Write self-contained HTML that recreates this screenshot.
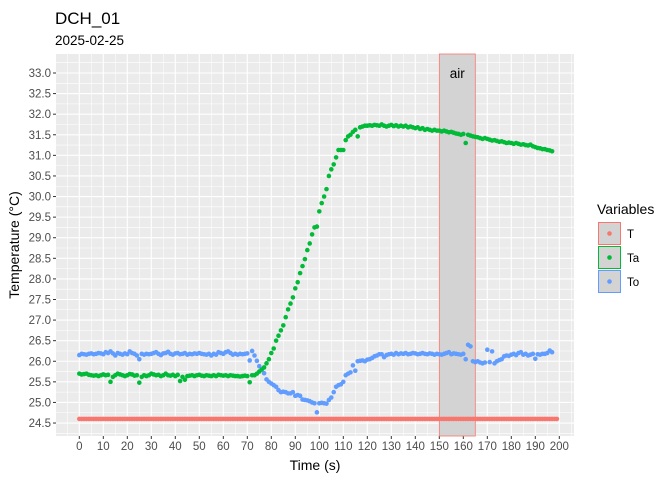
<!DOCTYPE html>
<html><head><meta charset="utf-8"><style>
body{margin:0;background:#fff;font-family:"Liberation Sans",Arial,sans-serif}
svg text{font-family:"Liberation Sans",Arial,sans-serif}
</style></head><body>
<svg id="c" width="672" height="480"></svg>
<script>
const seriesT = [24.6,24.6,24.6,24.6,24.6,24.6,24.6,24.6,24.6,24.6,24.6,24.6,24.6,24.6,24.6,24.6,24.6,24.6,24.6,24.6,24.6,24.6,24.6,24.6,24.6,24.6,24.6,24.6,24.6,24.6,24.6,24.6,24.6,24.6,24.6,24.6,24.6,24.6,24.6,24.6,24.6,24.6,24.6,24.6,24.6,24.6,24.6,24.6,24.6,24.6,24.6,24.6,24.6,24.6,24.6,24.6,24.6,24.6,24.6,24.6,24.6,24.6,24.6,24.6,24.6,24.6,24.6,24.6,24.6,24.6,24.6,24.6,24.6,24.6,24.6,24.6,24.6,24.6,24.6,24.6,24.6,24.6,24.6,24.6,24.6,24.6,24.6,24.6,24.6,24.6,24.6,24.6,24.6,24.6,24.6,24.6,24.6,24.6,24.6,24.6,24.6,24.6,24.6,24.6,24.6,24.6,24.6,24.6,24.6,24.6,24.6,24.6,24.6,24.6,24.6,24.6,24.6,24.6,24.6,24.6,24.6,24.6,24.6,24.6,24.6,24.6,24.6,24.6,24.6,24.6,24.6,24.6,24.6,24.6,24.6,24.6,24.6,24.6,24.6,24.6,24.6,24.6,24.6,24.6,24.6,24.6,24.6,24.6,24.6,24.6,24.6,24.6,24.6,24.6,24.6,24.6,24.6,24.6,24.6,24.6,24.6,24.6,24.6,24.6,24.6,24.6,24.6,24.6,24.6,24.6,24.6,24.6,24.6,24.6,24.6,24.6,24.6,24.6,24.6,24.6,24.6,24.6,24.6,24.6,24.6,24.6,24.6,24.6,24.6,24.6,24.6,24.6,24.6,24.6,24.6,24.6,24.6,24.6,24.6,24.6];
const seriesTa = [25.70,25.68,25.69,25.70,25.67,25.66,25.65,25.66,25.64,25.66,
25.68,25.66,25.67,25.50,25.62,25.66,25.70,25.68,25.66,25.64,
25.66,25.69,25.68,25.65,25.66,25.48,25.62,25.66,25.64,25.66,
25.70,25.68,25.66,25.67,25.64,25.66,25.70,25.66,25.65,25.67,
25.64,25.67,25.52,25.62,25.55,25.64,25.65,25.66,25.64,25.66,
25.67,25.65,25.64,25.66,25.65,25.64,25.66,25.64,25.67,25.66,
25.65,25.66,25.64,25.66,25.65,25.64,25.64,25.63,25.64,25.65,
25.64,25.49,25.66,25.66,25.70,25.75,25.80,25.85,25.95,26.05,
26.20,26.31,26.50,26.62,26.75,26.87,27.07,27.26,27.40,27.55,
27.77,27.92,28.14,28.31,28.48,28.70,28.86,29.08,29.25,29.27,
29.64,29.84,30.00,30.18,30.50,30.66,30.78,30.95,31.13,31.13,
31.13,31.37,31.46,31.50,31.57,31.62,31.46,31.68,31.70,31.72,
31.72,31.73,31.72,31.74,31.73,31.72,31.75,31.72,31.70,31.72,
31.74,31.71,31.73,31.70,31.72,31.70,31.72,31.68,31.70,31.68,
31.66,31.68,31.64,31.66,31.62,31.64,31.62,31.60,31.62,31.60,
31.60,31.58,31.60,31.58,31.56,31.57,31.55,31.53,31.52,31.50,
31.52,31.30,31.50,31.48,31.46,31.45,31.44,31.42,31.40,31.42,
31.40,31.38,31.36,31.37,31.35,31.33,31.34,31.32,31.30,31.31,
31.30,31.28,31.30,31.28,31.26,31.27,31.25,31.24,31.26,31.22,
31.20,31.18,31.17,31.15,31.15,31.13,31.12,31.10];
const seriesTo = [26.15,26.18,26.17,26.16,26.18,26.19,26.17,26.18,26.20,26.19,
26.17,26.22,26.20,26.24,26.19,26.14,26.20,26.18,26.16,26.19,
26.17,26.24,26.20,26.18,26.14,26.05,26.18,26.16,26.18,26.17,
26.18,26.20,26.22,26.18,26.15,26.19,26.20,26.23,26.18,26.16,
26.19,26.20,26.17,26.18,26.20,26.16,26.18,26.17,26.19,26.18,
26.20,26.18,26.17,26.16,26.18,26.14,26.18,26.16,26.22,26.20,
26.18,26.22,26.24,26.20,26.16,26.18,26.16,26.18,26.17,26.18,
26.19,26.02,26.25,26.14,26.01,25.88,25.80,25.71,25.56,25.50,
25.46,25.42,25.38,25.30,25.25,25.26,25.25,25.22,25.22,25.25,
25.16,25.18,25.16,25.07,25.06,25.05,25.03,25.00,24.98,24.76,
24.98,24.99,24.98,24.97,25.06,25.12,25.25,25.38,25.42,25.44,
25.50,25.66,25.70,25.73,25.90,25.77,26.00,26.01,26.02,26.00,
26.04,26.05,26.08,26.12,26.14,26.17,26.17,26.10,26.15,26.17,
26.18,26.16,26.20,26.17,26.19,26.18,26.20,26.17,26.18,26.20,
26.19,26.17,26.18,26.20,26.18,26.17,26.19,26.18,26.16,26.18,
26.17,26.16,26.18,26.20,26.22,26.17,26.19,26.18,26.17,26.16,
26.18,26.05,26.40,26.36,26.00,25.98,26.00,25.97,25.95,25.97,
26.28,25.98,26.24,25.95,26.00,26.03,26.05,26.12,26.14,26.13,
26.16,26.18,26.15,26.20,26.22,26.16,26.18,26.14,26.16,26.18,
26.06,26.17,26.16,26.18,26.18,26.20,26.26,26.22];
const xTicks = [0,10,20,30,40,50,60,70,80,90,100,110,120,130,140,150,160,170,180,190,200];
const yTicks = [24.5,25.0,25.5,26.0,26.5,27.0,27.5,28.0,28.5,29.0,29.5,30.0,30.5,31.0,31.5,32.0,32.5,33.0];
const airStart = 150, airEnd = 165;

const NS='http://www.w3.org/2000/svg', svg=document.getElementById('c');
const PL=56,PR=574,PT=54,PB=436;
const sx=t=>79.3+t*2.4;
const sy=v=>73+(33-v)*41.18;
function el(tag,attrs,parent){const e=document.createElementNS(NS,tag);for(const k in attrs)e.setAttribute(k,attrs[k]);(parent||svg).appendChild(e);return e;}
function txt(s,attrs,parent){const e=el('text',attrs,parent);e.textContent=s;return e;}

const panel=el('rect',{x:PL,y:PT,width:PR-PL,height:PB-PT,fill:'#EBEBEB'});


// minor grid
for(let i=0;i<xTicks.length;i++){const x=sx(xTicks[i]-5);if(x>PL)el('line',{x1:x,x2:x,y1:PT,y2:PB,stroke:'#fff','stroke-width':0.55});}
el('line',{x1:sx(205),x2:sx(205),y1:PT,y2:PB,stroke:'#fff','stroke-width':0.55});
for(let i=0;i<yTicks.length;i++){const y=sy(yTicks[i]+0.25);if(y>PT)el('line',{x1:PL,x2:PR,y1:y,y2:y,stroke:'#fff','stroke-width':0.55});}
el('line',{x1:PL,x2:PR,y1:sy(24.25),y2:sy(24.25),stroke:'#fff','stroke-width':0.55});
// major grid + labels
const gx=el('g',{});
xTicks.forEach(t=>{const x=sx(t);el('line',{x1:x,x2:x,y1:PT,y2:PB,stroke:'#fff','stroke-width':1.1});
 el('line',{x1:x,x2:x,y1:PB,y2:PB+3,stroke:'#333','stroke-width':1},gx);
 txt(String(t),{x:x,y:PB+14,'font-size':11.5,fill:'#4D4D4D','text-anchor':'middle'},gx);});
const gy=el('g',{});
yTicks.forEach(v=>{const y=sy(v);el('line',{x1:PL,x2:PR,y1:y,y2:y,stroke:'#fff','stroke-width':1.1});
 el('line',{x1:PL-3,x2:PL,y1:y,y2:y,stroke:'#333','stroke-width':1},gy);
 txt(v.toFixed(1),{x:PL-5,y:y+4,'font-size':11.5,fill:'#4D4D4D','text-anchor':'end'},gy);});
// air band
const band=el('rect',{x:sx(airStart),y:PT,width:sx(airEnd)-sx(airStart),height:PB-PT,fill:'#D3D3D3',stroke:'#F8766D','stroke-width':0.8});


const at=txt('air',{x:(sx(airStart)+sx(airEnd))/2,y:78,'font-size':13.5,fill:'#000','text-anchor':'middle'});


// series
function series(vals,color,name){const g=el('g',{fill:color});
 
 
 vals.forEach((v,i)=>{el('circle',{cx:sx(i),cy:sy(v),r:2.3},g);});}
series(seriesT,'#F8766D','series-t');
series(seriesTo,'#619CFF','series-to');
series(seriesTa,'#00BA38','series-ta');
// titles
const t1=txt('DCH_01',{x:55,y:24,'font-size':17,fill:'#000'});
const t2=txt('2025-02-25',{x:55,y:45,'font-size':13.5,fill:'#000'});
const xt=txt('Time (s)',{x:(PL+PR)/2,y:470,'font-size':14,fill:'#000','text-anchor':'middle'});
const yt=txt('Temperature (°C)',{x:0,y:0,'font-size':14,fill:'#000','text-anchor':'middle',transform:'translate(19,245) rotate(-90)'});
// legend
const lg=el('g',{});
txt('Variables',{x:597,y:214,'font-size':14,fill:'#000'},lg);
[['T','#F8766D'],['Ta','#00BA38'],['To','#619CFF']].forEach((d,i)=>{
 const e=el('g',{},lg);
 
 
 const y=222+i*24;
 el('rect',{x:598.5,y:y+0.5,width:22,height:22,fill:'#D3D3D3',stroke:d[1],'stroke-width':1},e);
 el('circle',{cx:609.5,cy:y+11.5,r:2.3,fill:d[1]},e);
 txt(d[0],{x:627,y:y+16,'font-size':11.5,fill:'#000'},e);});
</script>
</body></html>
